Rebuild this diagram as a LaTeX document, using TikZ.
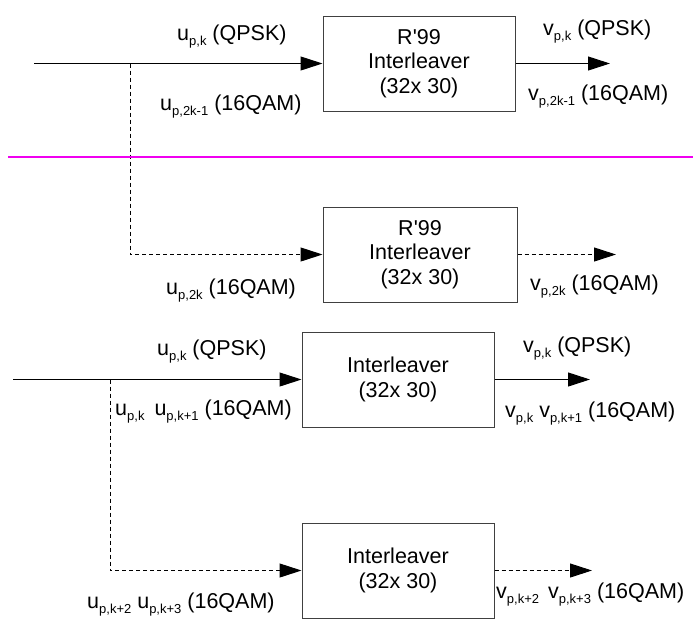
\documentclass[tikz,border=0pt]{standalone}
\usepackage{fontspec}
\setmainfont{Liberation Sans}
\usetikzlibrary{arrows.meta}
\definecolor{sepcol}{RGB}{240,0,240}
\newcommand\sbs[1]{\raisebox{-5.5pt}{\fontsize{13}{13}\selectfont #1}}
\begin{document}
\begin{tikzpicture}[x=1pt,y=-1pt,
  font=\fontsize{21.5}{24.5}\selectfont,
  ilbox/.style={draw=black!75, line width=1pt, minimum width=192pt, minimum height=95pt, inner sep=0pt, align=center},
  lbl/.style={anchor=base west, inner sep=0pt},
  conn/.style={line width=1pt, -{Triangle[length=22pt,width=14pt]}},
  dconn/.style={conn, dash pattern=on 4pt off 3pt},
  sep/.style={draw=sepcol, line width=2pt}
]
\useasboundingbox (0,0) rectangle (696,619);

% ---- top half (R'99) ----
\node[ilbox] (b1) at (419,63.5) {R\textquotesingle99\\Interleaver\\(32x 30)};
\node[ilbox, minimum width=194pt] (b2) at (420,254.5) {R\textquotesingle99\\Interleaver\\(32x 30)};
\coordinate (in1) at (34,63.5);
\coordinate (j1) at (130,63.5);
\coordinate (o1) at (610,63.5);
\coordinate (o2) at (616,254.5);
\draw[conn] (in1) -- (b1.west);
\draw[dconn] (j1) |- (b2.west);
\draw[conn] (b1.east) -- (o1);
\draw[dconn] (b2.east) -- (o2);

\node[lbl] (l1) at (177,40) {u\sbs{p,k} (QPSK)};
\node[lbl] (l2) at (160,110) {u\sbs{p,2k-1} (16QAM)};
\node[lbl] (l3) at (543,35) {v\sbs{p,k} (QPSK)};
\node[lbl] (l4) at (528,100) {v\sbs{p,2k-1} (16QAM)};
\node[lbl] (l5) at (166,294) {u\sbs{p,2k} (16QAM)};
\node[lbl] (l6) at (530,290) {v\sbs{p,2k} (16QAM)};

% separator
\coordinate (m1) at (8,157);
\coordinate (m2) at (693,157);
\draw[sep] (m1) -- (m2);

% ---- bottom half ----
\node[ilbox] (b3) at (398,379.5) {Interleaver\\(32x 30)};
\node[ilbox] (b4) at (398,570.5) {Interleaver\\(32x 30)};
\coordinate (in3) at (13,379.5);
\coordinate (j3) at (110,379.5);
\coordinate (o3) at (590,379.5);
\coordinate (o4) at (592,570.5);
\draw[conn] (in3) -- (b3.west);
\draw[dconn] (j3) |- (b4.west);
\draw[conn] (b3.east) -- (o3);
\draw[dconn] (b4.east) -- (o4);

\node[lbl] (l7) at (157,355) {u\sbs{p,k} (QPSK)};
\node[lbl] (l8) at (115,415) {u\sbs{p,k}\hspace{10pt}u\sbs{p,k+1} (16QAM)};
\node[lbl] (l9) at (523,352) {v\sbs{p,k} (QPSK)};
\node[lbl] (l10) at (505,417) {v\sbs{p,k} v\sbs{p,k+1} (16QAM)};
\node[lbl] (l11) at (87,608) {u\sbs{p,k+2} u\sbs{p,k+3} (16QAM)};
\node[lbl] (l12) at (496,598) {v\sbs{p,k+2}\hspace{9pt}v\sbs{p,k+3} (16QAM)};
\end{tikzpicture}
\end{document}
